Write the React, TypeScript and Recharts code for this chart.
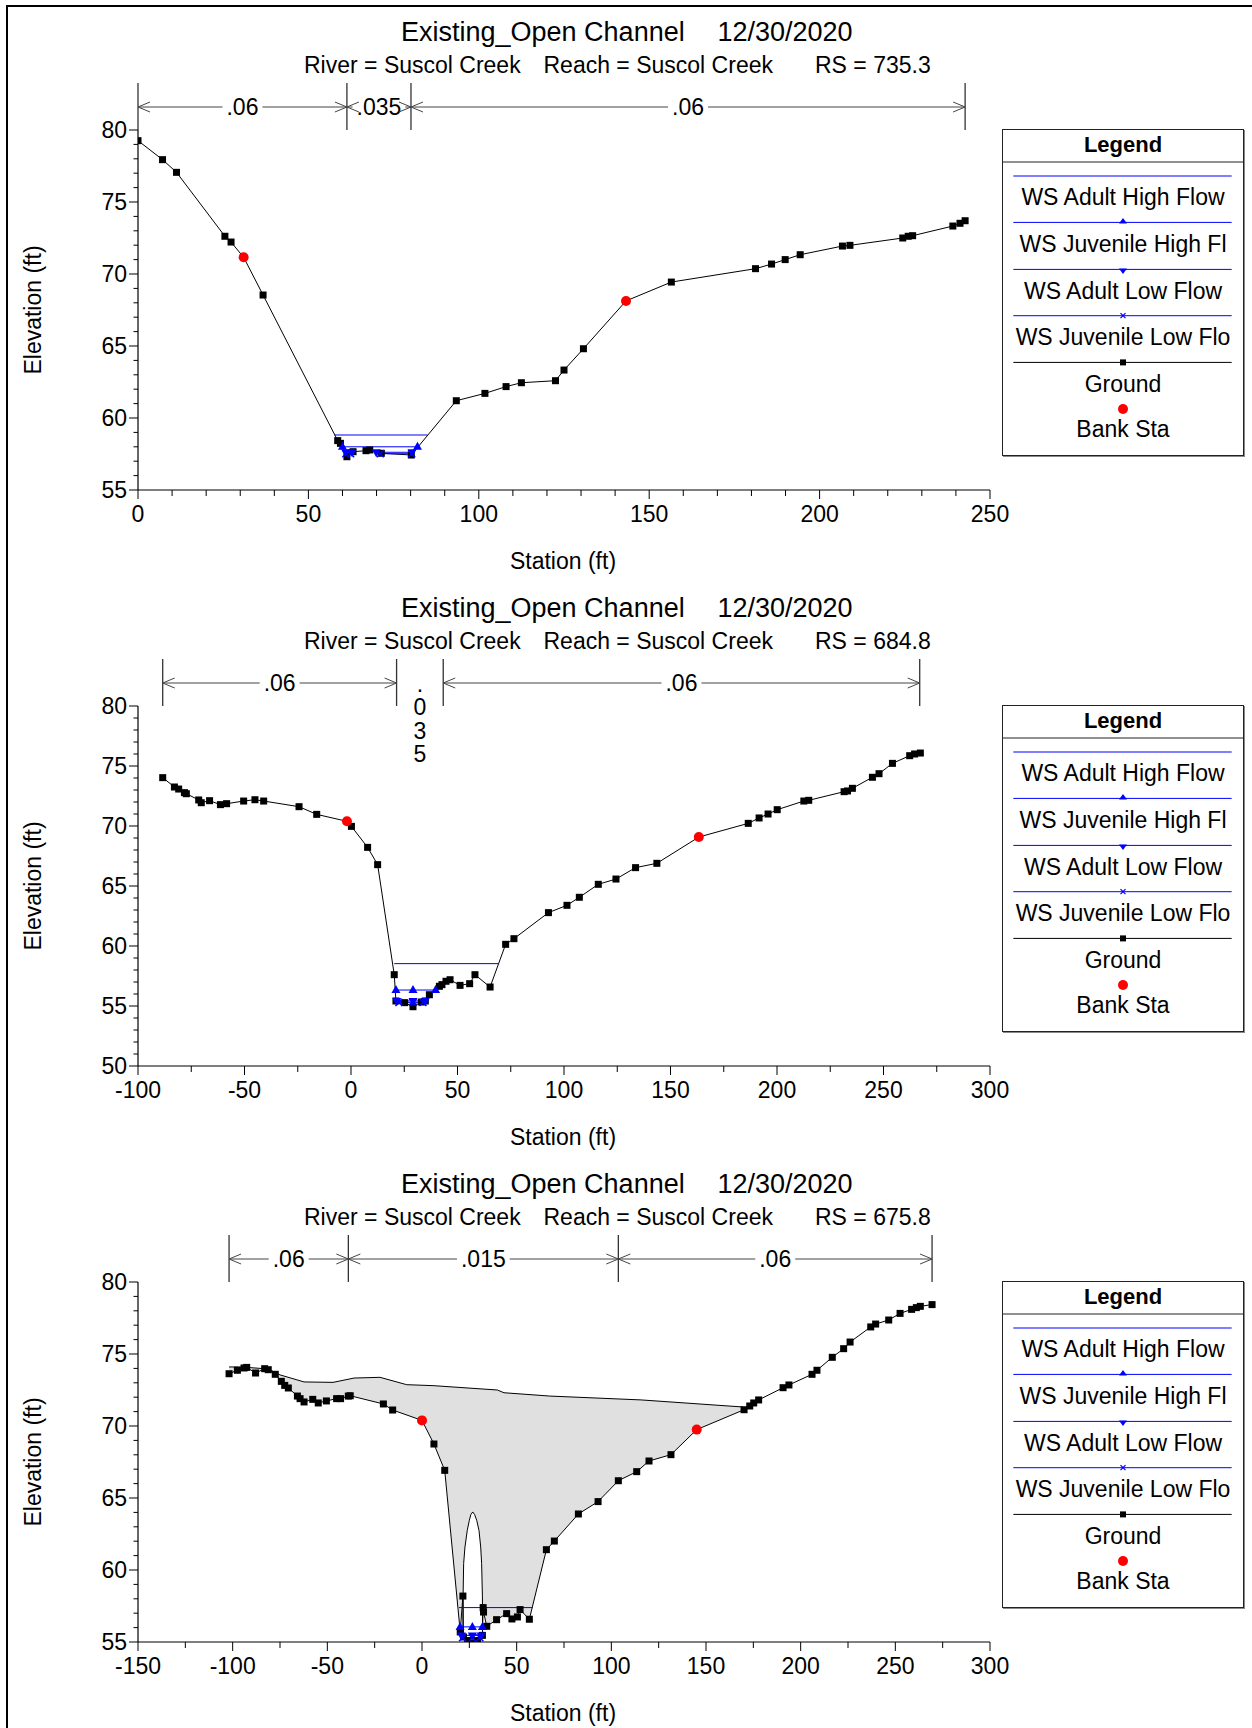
import React from 'react';
import { ComposedChart, Line, Area, XAxis, YAxis, ReferenceLine } from 'recharts';

const FONT = "'Liberation Sans', Arial, Helvetica, sans-serif";
const BLUE = '#0000ff';

// ---------------- Text ----------------
const TITLE = 'Existing_Open Channel';
const DATE = '12/30/2020';
const RIVER = 'River = Suscol Creek';
const REACH = 'Reach = Suscol Creek';
const RS_LABELS = ['RS = 735.3', 'RS = 684.8', 'RS = 675.8'];
const X_TITLE = 'Station (ft)';
const Y_TITLE = 'Elevation (ft)';
const LEGEND_LABELS = [
  'WS Adult High Flow',
  'WS Juvenile High Fl',
  'WS Adult Low Flow',
  'WS Juvenile Low Flo',
  'Ground',
  'Bank Sta',
];

// ---------------- Tick labels ----------------
const X_TICKS_1 = [0, 50, 100, 150, 200, 250];
const X_TICKS_2 = [-100, -50, 0, 50, 100, 150, 200, 250, 300];
const X_TICKS_3 = [-150, -100, -50, 0, 50, 100, 150, 200, 250, 300];
const Y_TICKS_1 = [55, 60, 65, 70, 75, 80];
const Y_TICKS_2 = [50, 55, 60, 65, 70, 75, 80];
const Y_TICKS_3 = [55, 60, 65, 70, 75, 80];

// ---------------- RS 735.3 ----------------
const GROUND_1: [number, number][] = [
  [0, 79.26], [7.2, 77.94], [11.3, 77.06], [25.5, 72.62], [27.3, 72.22], [31.0, 71.16],
  [36.7, 68.54], [58.6, 58.43], [59.4, 58.24], [61.3, 57.31], [63.1, 57.66], [66.9, 57.73],
  [68.0, 57.78], [71.4, 57.55], [80.2, 57.43], [93.4, 61.2], [101.8, 61.71], [108.0, 62.18],
  [112.5, 62.45], [122.5, 62.59], [125.0, 63.33], [130.7, 64.81], [143.2, 68.13], [156.5, 69.44],
  [181.2, 70.37], [185.9, 70.69], [189.9, 71.0], [194.3, 71.34], [206.7, 71.94], [208.9, 71.99],
  [224.4, 72.5], [226.0, 72.62], [227.3, 72.66], [239.1, 73.33], [241.2, 73.52], [242.7, 73.7],
];
const BANK_1: [number, number][] = [[31.0, 71.16], [143.2, 68.13]];
const WS_ADULT_HIGH_1: [number, number | null][] = [[57.6, 58.82], [85.0, 58.82]];
const WS_JUV_HIGH_1: [number, number | null][] = [[60.0, 58.0], [82.0, 58.0]];
const WS_ADULT_LOW_1: [number, number | null][] = [[60.9, 57.62], [62.8, 57.62], [66.0, null], [69.9, 57.62], [80.4, 57.62]];
const WS_JUV_LOW_1: [number, number | null][] = [[61.0, 57.52], [62.4, 57.52], [66.0, null], [71.1, 57.52], [80.3, 57.52]];
const ROUGH_STA_1 = [0, 61.3, 80.1, 242.7];
const ROUGH_N_1 = ['.06', '.035', '.06'];

// ---------------- RS 684.8 ----------------
const GROUND_2: [number, number][] = [
  [-88.4, 74.03], [-82.9, 73.25], [-80.9, 73.08], [-78.2, 72.78], [-77.3, 72.69], [-71.5, 72.17],
  [-70.3, 71.94], [-66.4, 72.11], [-61.3, 71.78], [-58.4, 71.86], [-50.4, 72.08], [-45.1, 72.19],
  [-41.0, 72.08], [-24.4, 71.61], [-16.1, 70.97], [-1.9, 70.39], [0.2, 69.97], [7.8, 68.22],
  [12.5, 66.78], [20.3, 57.61], [21.1, 55.42], [25.2, 55.28], [29.1, 54.94], [33.0, 55.33],
  [34.9, 55.42], [36.8, 55.94], [41.5, 56.64], [42.7, 56.78], [44.6, 57.06], [46.5, 57.19],
  [51.2, 56.72], [55.7, 56.86], [58.2, 57.61], [65.3, 56.58], [72.6, 60.14], [76.5, 60.61],
  [92.7, 62.78], [101.4, 63.39], [107.2, 64.06], [116.1, 65.14], [124.4, 65.58], [133.6, 66.53],
  [143.6, 66.89], [163.3, 69.08], [186.5, 70.22], [191.6, 70.67], [195.8, 71.0], [200.1, 71.36],
  [212.6, 72.08], [214.9, 72.14], [231.5, 72.86], [233.1, 72.92], [235.4, 73.14], [244.8, 74.06],
  [247.9, 74.36], [254.2, 75.22], [262.3, 75.86], [264.6, 76.0], [267.3, 76.08],
];
const BANK_2: [number, number][] = [[-1.9, 70.39], [163.3, 69.08]];
const WS_ADULT_HIGH_2: [number, number | null][] = [[20.3, 58.53], [69.5, 58.53]];
const WS_JUV_HIGH_2: [number, number | null][] = [[21.1, 56.33], [29.1, 56.33], [39.7, 56.33]];
const WS_ADULT_LOW_2: [number, number | null][] = [[21.5, 55.42], [29.1, 55.42], [34.9, 55.42]];
const WS_JUV_LOW_2: [number, number | null][] = [[22.5, 55.3], [29.1, 55.3], [33.8, 55.3]];
const ROUGH_STA_2 = [-88.4, 21.4, 43.3, 267.0];
const ROUGH_N_2 = ['.06', '.035', '.06'];

// ---------------- RS 675.8 ----------------
const GROUND_3: [number, number][] = [
  [-101.9, 73.63], [-97.5, 73.87], [-94.0, 74.03], [-92.6, 74.07], [-87.9, 73.68], [-83.1, 73.98],
  [-81.2, 73.91], [-77.5, 73.59], [-74.3, 73.1], [-72.5, 72.82], [-70.6, 72.64], [-65.8, 72.08],
  [-64.4, 71.9], [-62.3, 71.67], [-57.7, 71.85], [-54.8, 71.6], [-50.5, 71.74], [-45.1, 71.9],
  [-43.0, 71.9], [-38.9, 72.08], [-37.9, 72.1], [-20.4, 71.53], [-15.5, 71.11], [0, 70.39],
  [6.3, 68.75], [12.0, 66.92], [20.2, 55.7], [21.6, 58.19], [21.9, 55.35], [24.0, 55.1],
  [26.6, 54.93], [29.3, 55.1], [31.9, 55.46], [32.3, 57.39], [32.5, 57.08], [34.2, 56.09],
  [39.4, 56.55], [44.7, 56.97], [47.5, 56.6], [50.4, 56.74], [51.8, 57.25], [56.7, 56.58],
  [65.7, 61.41], [69.9, 62.01], [82.6, 63.89], [93.0, 64.75], [103.7, 66.2], [113.4, 66.83],
  [119.9, 67.57], [131.5, 68.01], [145.1, 69.75], [170.1, 71.13], [173.1, 71.39], [175.2, 71.6],
  [177.8, 71.81], [190.7, 72.66], [193.8, 72.85], [206.0, 73.59], [208.6, 73.87], [216.7, 74.77],
  [222.7, 75.37], [226.1, 75.83], [237.0, 76.88], [239.6, 77.08], [246.5, 77.36], [252.5, 77.82],
  [258.6, 78.1], [261.1, 78.22], [263.2, 78.31], [269.4, 78.43],
];
const BANK_3: [number, number][] = [[0, 70.39], [145.1, 69.75]];
const WS_ADULT_HIGH_3: [number, number | null][] = [[19.5, 57.39], [58.3, 57.39]];
const WS_JUV_HIGH_3: [number, number | null][] = [[20.1, 56.05], [26.6, 56.05], [31.9, 56.05]];
const WS_ADULT_LOW_3: [number, number | null][] = [[20.8, 55.46], [26.6, 55.46], [31.2, 55.46]];
const WS_JUV_LOW_3: [number, number | null][] = [[21.4, 55.3], [26.6, 55.3], [30.6, 55.3]];
const DECK_3: [number, number][] = [
  [-101.9, 74.1], [-97.0, 74.1], [-92.6, 74.07], [-83.1, 73.98], [-80.0, 73.88], [-75.0, 73.55],
  [-62.3, 73.06], [-47.0, 73.03], [-35.9, 73.33], [-22.2, 73.38], [-8.1, 72.87], [6.3, 72.8],
  [39.8, 72.5], [43.3, 72.31], [67.4, 72.08], [115.8, 71.81], [169.5, 71.32],
];
const CULVERT_3: [number, number][] = [
  [21.6, 55.5], [21.7, 58.2], [22.0, 60.45], [22.7, 61.6], [23.9, 62.75], [25.0, 63.45],
  [25.8, 63.85], [26.8, 64.03], [27.8, 63.85], [28.9, 63.45], [30.1, 62.75], [31.0, 61.6],
  [31.5, 60.45], [31.9, 58.2], [32.0, 55.5],
];
const ROUGH_STA_3 = [-101.9, -38.9, 103.7, 269.4];
const ROUGH_N_3 = ['.06', '.015', '.06'];

// ---------------- helpers ----------------
type Pt = { x: number; y: number | null };
const toPts = (a: [number, number | null][]): Pt[] => a.map(([x, y]) => ({ x, y }));

const buildTicks = (majors: number[], step: number) => {
  const out: number[] = [];
  const lo = majors[0];
  const hi = majors[majors.length - 1];
  for (let v = lo; v <= hi + 1e-9; v += step) out.push(Math.round(v * 1000) / 1000);
  return out;
};

const glyphW = (s: string) => Array.from(s).reduce((w, c) => w + (c === '.' ? 0.278 : 0.556), 0);

function XTick(props: any) {
  const { x, y, payload, majors } = props;
  const v = payload?.value;
  const isMajor = majors.includes(v);
  return (
    <g>
      <line x1={x} x2={x} y1={y} y2={y + (isMajor ? 9 : 6)} stroke="#000" strokeWidth={1} />
      {isMajor && (
        <text x={x} y={y + 32} textAnchor="middle" fontSize={23} fontFamily={FONT} fill="#000">
          {v}
        </text>
      )}
    </g>
  );
}

function YTick(props: any) {
  const { x, y, payload, majors } = props;
  const v = payload?.value;
  const isMajor = majors.includes(v);
  return (
    <g>
      <line x1={x - (isMajor ? 9 : 4.5)} x2={x} y1={y} y2={y} stroke="#000" strokeWidth={1} />
      {isMajor && (
        <text x={x - 11} y={y + 8} textAnchor="end" fontSize={23} fontFamily={FONT} fill="#000">
          {v}
        </text>
      )}
    </g>
  );
}

function BoundaryTick(props: any) {
  const { x1, y1, y2 } = props;
  const top = Math.min(y1, y2);
  return <line x1={x1} x2={x1} y1={top - 47} y2={top} stroke="#333" strokeWidth={1.3} />;
}

function RoughArrow(props: any) {
  const { x1, x2, y1, label, stacked } = props;
  const xa = Math.min(x1, x2);
  const xb = Math.max(x1, x2);
  const mid = (xa + xb) / 2;
  if (stacked) {
    return (
      <g>
        {Array.from(label as string).map((c, i) => (
          <text key={i} x={mid} y={y1 - 14.5 + i * 23.5} textAnchor="middle" fontSize={23} fontFamily={FONT} fill="#000">
            {c}
          </text>
        ))}
      </g>
    );
  }
  const y = y1 - 23;
  const w = glyphW(label) * 23 + 8;
  return (
    <g>
      <line x1={xa} x2={xb} y1={y} y2={y} stroke="#444" strokeWidth={1} />
      <rect x={mid - w / 2} y={y - 12} width={w} height={24} fill="#fff" />
      <text x={mid} y={y + 8} textAnchor="middle" fontSize={23} fontFamily={FONT} fill="#000">
        {label}
      </text>
      <polyline points={`${xa + 12},${y - 5} ${xa},${y} ${xa + 12},${y + 5}`} fill="none" stroke="#444" strokeWidth={1} />
      <polyline points={`${xb - 12},${y - 5} ${xb},${y} ${xb - 12},${y + 5}`} fill="none" stroke="#444" strokeWidth={1} />
    </g>
  );
}

const makeGroundDot = (bank: [number, number][]) => (p: any) => {
  const k = `g${p.index}`;
  if (p.cx == null || p.cy == null) return <g key={k} />;
  if (bank.some((b) => Math.abs(b[0] - p.payload?.x) < 1e-6)) return <g key={k} />;
  return <rect key={k} x={p.cx - 3.5} y={p.cy - 3.5} width={7} height={7} fill="#000" />;
};
const bankDot = (p: any) => {
  const k = `b${p.index}`;
  if (p.cx == null || p.cy == null) return <g key={k} />;
  return <circle key={k} cx={p.cx} cy={p.cy} r={5} fill="#ff0000" />;
};
const triUpDot = (p: any) => {
  const k = `u${p.index}`;
  if (p.cx == null || p.cy == null) return <g key={k} />;
  const { cx, cy } = p;
  return <polygon key={k} points={`${cx},${cy - 5} ${cx - 4.5},${cy + 3} ${cx + 4.5},${cy + 3}`} fill={BLUE} />;
};
const triDownDot = (p: any) => {
  const k = `d${p.index}`;
  if (p.cx == null || p.cy == null) return <g key={k} />;
  const { cx, cy } = p;
  return <polygon key={k} points={`${cx},${cy + 5} ${cx - 4.5},${cy - 3} ${cx + 4.5},${cy - 3}`} fill={BLUE} />;
};
const xDot = (p: any) => {
  const k = `x${p.index}`;
  if (p.cx == null || p.cy == null) return <g key={k} />;
  const { cx, cy } = p;
  return (
    <g key={k}>
      <line x1={cx - 3.5} x2={cx + 3.5} y1={cy - 3.5} y2={cy + 3.5} stroke={BLUE} strokeWidth={1.5} />
      <line x1={cx - 3.5} x2={cx + 3.5} y1={cy + 3.5} y2={cy - 3.5} stroke={BLUE} strokeWidth={1.5} />
    </g>
  );
};

type PanelCfg = {
  rs: string;
  xTicks: number[];
  xMinor: number;
  yTicks: number[];
  ground: [number, number][];
  bank: [number, number][];
  wsAH: [number, number | null][];
  wsJH: [number, number | null][];
  wsAL: [number, number | null][];
  wsJL: [number, number | null][];
  roughSta: number[];
  roughN: string[];
  stacked: number[];
  deck?: [number, number][];
  culvert?: [number, number][];
};

const PANELS: PanelCfg[] = [
  {
    rs: RS_LABELS[0], xTicks: X_TICKS_1, xMinor: 10, yTicks: Y_TICKS_1, ground: GROUND_1, bank: BANK_1,
    wsAH: WS_ADULT_HIGH_1, wsJH: WS_JUV_HIGH_1, wsAL: WS_ADULT_LOW_1, wsJL: WS_JUV_LOW_1,
    roughSta: ROUGH_STA_1, roughN: ROUGH_N_1, stacked: [],
  },
  {
    rs: RS_LABELS[1], xTicks: X_TICKS_2, xMinor: 25, yTicks: Y_TICKS_2, ground: GROUND_2, bank: BANK_2,
    wsAH: WS_ADULT_HIGH_2, wsJH: WS_JUV_HIGH_2, wsAL: WS_ADULT_LOW_2, wsJL: WS_JUV_LOW_2,
    roughSta: ROUGH_STA_2, roughN: ROUGH_N_2, stacked: [1],
  },
  {
    rs: RS_LABELS[2], xTicks: X_TICKS_3, xMinor: 25, yTicks: Y_TICKS_3, ground: GROUND_3, bank: BANK_3,
    wsAH: WS_ADULT_HIGH_3, wsJH: WS_JUV_HIGH_3, wsAL: WS_ADULT_LOW_3, wsJL: WS_JUV_LOW_3,
    roughSta: ROUGH_STA_3, roughN: ROUGH_N_3, stacked: [], deck: DECK_3, culvert: CULVERT_3,
  },
];

const abs = (left: number, top: number, extra: React.CSSProperties = {}): React.CSSProperties => ({
  position: 'absolute', left, top, whiteSpace: 'nowrap', ...extra,
});

function LegendBox() {
  const lineYs = [46, 92.4, 139.4, 185.7, 232.4];
  const textYs = [75.4, 122, 168.7, 215.4, 262, 307];
  const cx = 120;
  return (
    <div
      style={{
        position: 'absolute', left: 1002, top: 129.3, width: 242, height: 327, boxSizing: 'border-box',
        border: '1px solid #222', boxShadow: '1px 1px 0 #888', background: '#fff',
      }}
    >
      <svg width={240} height={325} style={{ display: 'block' }} fontFamily={FONT}>
        <text x={cx} y={22} textAnchor="middle" fontSize={22} fontWeight="bold" fill="#000">Legend</text>
        <line x1={0} x2={240} y1={32} y2={32} stroke="#222" strokeWidth={1} />
        {lineYs.map((ly, i) => (
          <line key={i} x1={10.3} x2={228.7} y1={ly} y2={ly} stroke={i === 4 ? '#000' : BLUE} strokeWidth={1} />
        ))}
        <polygon points={`${cx},${lineYs[1] - 4.5} ${cx - 4},${lineYs[1] + 1} ${cx + 4},${lineYs[1] + 1}`} fill={BLUE} />
        <polygon points={`${cx},${lineYs[2] + 4.5} ${cx - 4},${lineYs[2] - 1} ${cx + 4},${lineYs[2] - 1}`} fill={BLUE} />
        <line x1={cx - 2.5} x2={cx + 2.5} y1={lineYs[3] - 2.5} y2={lineYs[3] + 2.5} stroke={BLUE} strokeWidth={1.2} />
        <line x1={cx - 2.5} x2={cx + 2.5} y1={lineYs[3] + 2.5} y2={lineYs[3] - 2.5} stroke={BLUE} strokeWidth={1.2} />
        <rect x={cx - 3} y={lineYs[4] - 3} width={6} height={6} fill="#000" />
        <circle cx={cx} cy={279} r={5} fill="#ff0000" />
        {LEGEND_LABELS.map((t, i) => (
          <text key={t} x={cx} y={textYs[i]} textAnchor="middle" fontSize={23} fill="#000">{t}</text>
        ))}
      </svg>
    </div>
  );
}

function Panel({ cfg, top }: { cfg: PanelCfg; top: number }) {
  const xDomain: [number, number] = [cfg.xTicks[0], cfg.xTicks[cfg.xTicks.length - 1]];
  const yDomain: [number, number] = [cfg.yTicks[0], cfg.yTicks[cfg.yTicks.length - 1]];
  const xAll = buildTicks(cfg.xTicks, cfg.xMinor);
  const yAll = buildTicks(cfg.yTicks, 1);
  const yMax = yDomain[1];
  const yMin = yDomain[0];
  return (
    <div style={{ position: 'absolute', left: 0, top, width: 1252, height: 576 }}>
      <ComposedChart width={1040} height={576} margin={{ top: 130, right: 50, bottom: 26, left: 78 }}>
        <XAxis
          type="number" dataKey="x" domain={xDomain} ticks={xAll} interval={0} allowDataOverflow
          tickSize={0} tickMargin={0} tickLine={false} height={60}
          axisLine={{ stroke: '#000', strokeWidth: 1.2 }}
          tick={(p: any) => <XTick {...p} majors={cfg.xTicks} />}
        />
        <YAxis
          type="number" domain={yDomain} ticks={yAll} interval={0} allowDataOverflow
          tickSize={0} tickMargin={0} tickLine={false} width={60}
          axisLine={{ stroke: '#000', strokeWidth: 1.2 }}
          tick={(p: any) => <YTick {...p} majors={cfg.yTicks} />}
        />
        {cfg.deck && (
          <Area data={toPts(cfg.deck)} dataKey="y" type="linear" stroke="#000" strokeWidth={1} fill="#e0e0e0"
            fillOpacity={1} baseValue={yMin} dot={false} activeDot={false} isAnimationActive={false} />
        )}
        {cfg.deck && (
          <Area data={toPts(cfg.ground)} dataKey="y" type="linear" stroke="none" fill="#ffffff"
            fillOpacity={1} baseValue={yMin} dot={false} activeDot={false} isAnimationActive={false} />
        )}
        {cfg.culvert && (
          <Area data={toPts(cfg.culvert)} dataKey="y" type="linear" stroke="#000" strokeWidth={1} fill="#ffffff"
            fillOpacity={1} baseValue={yMin} dot={false} activeDot={false} isAnimationActive={false} />
        )}
        {cfg.roughSta.map((s, i) => (
          <ReferenceLine key={`rb${i}`} x={s} ifOverflow="visible" stroke="#333" shape={(p: any) => <BoundaryTick {...p} />} />
        ))}
        {cfg.roughN.map((n, i) => (
          <ReferenceLine
            key={`ra${i}`}
            segment={[{ x: cfg.roughSta[i], y: yMax }, { x: cfg.roughSta[i + 1], y: yMax }]}
            ifOverflow="visible"
            shape={(p: any) => <RoughArrow {...p} label={n} stacked={cfg.stacked.includes(i)} />}
          />
        ))}
        <Line data={toPts(cfg.ground)} dataKey="y" type="linear" stroke="#000" strokeWidth={1}
          dot={makeGroundDot(cfg.bank)} activeDot={false} isAnimationActive={false} />
        <Line data={toPts(cfg.wsAH)} dataKey="y" type="linear" stroke={BLUE} strokeWidth={1}
          dot={false} activeDot={false} isAnimationActive={false} />
        <Line data={toPts(cfg.wsJH)} dataKey="y" type="linear" stroke={BLUE} strokeWidth={1}
          dot={triUpDot} activeDot={false} isAnimationActive={false} />
        <Line data={toPts(cfg.wsAL)} dataKey="y" type="linear" stroke={BLUE} strokeWidth={1}
          dot={triDownDot} activeDot={false} isAnimationActive={false} />
        <Line data={toPts(cfg.wsJL)} dataKey="y" type="linear" stroke={BLUE} strokeWidth={1}
          dot={xDot} activeDot={false} isAnimationActive={false} />
        <Line data={toPts(cfg.bank)} dataKey="y" type="linear" stroke="none" strokeWidth={0}
          dot={bankDot} activeDot={false} isAnimationActive={false} />
      </ComposedChart>

      <span style={abs(401, 16.5, { fontSize: 27, lineHeight: '30px' })}>{TITLE}</span>
      <span style={abs(717.5, 16.5, { fontSize: 27, lineHeight: '30px' })}>{DATE}</span>
      <span style={abs(304, 52, { fontSize: 23, lineHeight: '26px' })}>{RIVER}</span>
      <span style={abs(543.5, 52, { fontSize: 23, lineHeight: '26px' })}>{REACH}</span>
      <span style={abs(815, 52, { fontSize: 23, lineHeight: '26px' })}>{cfg.rs}</span>
      <div
        style={abs(33, 310, {
          fontSize: 23, lineHeight: '26px', transform: 'translate(-50%, -50%) rotate(-90deg)',
        })}
      >
        {Y_TITLE}
      </div>
      <div style={abs(563, 561, { fontSize: 23, lineHeight: '26px', transform: 'translate(-50%, -50%)' })}>
        {X_TITLE}
      </div>
      <LegendBox />
    </div>
  );
}

export default function App() {
  return (
    <div
      style={{
        position: 'absolute', left: 0, top: 0, width: 1252, height: 1728, background: '#fff',
        fontFamily: FONT, color: '#000', overflow: 'hidden',
      }}
    >
      <div
        style={{
          position: 'absolute', left: 6, top: 5, width: 1300, height: 1800,
          borderLeft: '2px solid #000', borderTop: '2px solid #000',
        }}
      />
      {PANELS.map((cfg, i) => (
        <Panel key={i} cfg={cfg} top={576 * i} />
      ))}
    </div>
  );
}
